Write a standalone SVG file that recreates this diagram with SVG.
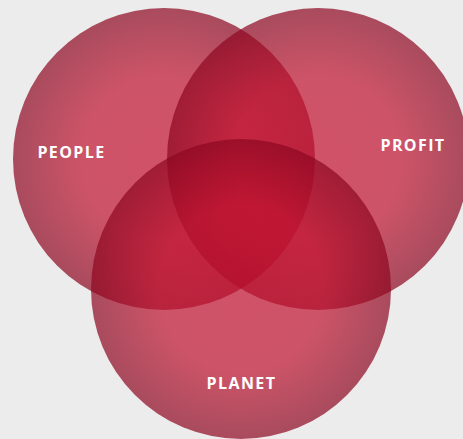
<svg xmlns="http://www.w3.org/2000/svg" width="463" height="439" viewBox="0 0 463 439">
<style>
.lbl{font-family:"Open Sans","Liberation Sans",sans-serif;font-weight:bold;font-size:16px;fill:#ffffff;letter-spacing:1.4px;text-anchor:middle}
</style>
<defs>
<radialGradient id="g" cx="0.5" cy="0.5" r="0.5">
<stop offset="0" stop-color="#c4102f" stop-opacity="0.7"/>
<stop offset="0.55" stop-color="#c0122f" stop-opacity="0.7"/>
<stop offset="1" stop-color="#8c0620" stop-opacity="0.7"/>
</radialGradient>
</defs>
<rect width="463" height="439" fill="#ececec"/>
<g id="people"><circle cx="164" cy="159" r="151" fill="url(#g)"/></g>
<g id="profit"><circle cx="318" cy="159" r="151" fill="url(#g)"/></g>
<g id="planet"><circle cx="241" cy="289" r="150" fill="url(#g)"/></g>
<g id="connectors"></g>
<g id="labels">
<text class="lbl" x="71.5" y="158">PEOPLE</text>
<text class="lbl" x="413" y="151">PROFIT</text>
<text class="lbl" x="241.5" y="389">PLANET</text>
</g>
</svg>
